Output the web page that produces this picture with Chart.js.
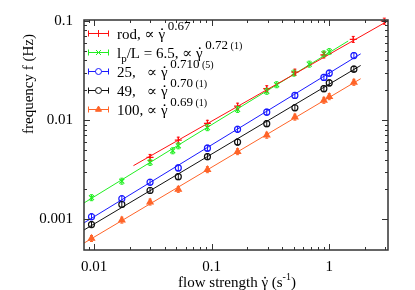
<!DOCTYPE html>
<html>
<head>
<meta charset="utf-8">
<script src="https://cdn.jsdelivr.net/npm/chart.js@4"></script>
<style>
html, body { margin: 0; padding: 0; background: #fff; }
#wrap { width: 415px; height: 290px; }
</style>
</head>
<body>
<div id="wrap"><canvas id="chart"></canvas></div>
<script>
// ===============================
// data
// ===============================
const xTicks = [0.01, 0.1, 1];
const xTickLabels = ["0.01", "0.1", "1"];
const yTicks = [0.001, 0.01, 0.1];
const yTickLabels = ["0.001", "0.01", "0.1"];

const rodX = [0.0299, 0.052, 0.092, 0.166, 0.294, 0.51, 0.90, 1.6, 2.94];
const rodY = [0.0042, 0.00627, 0.00927, 0.0138, 0.0207, 0.0304, 0.0454, 0.065, 0.0993];

const lp65X = [0.0095, 0.0172, 0.0299, 0.0466, 0.052, 0.092, 0.166, 0.294, 0.357, 0.5, 0.676, 0.90, 1.0];
const lp65Y = [0.00165, 0.00242, 0.00374, 0.0049, 0.0055, 0.00838, 0.0128, 0.0195, 0.0227, 0.0297, 0.0366, 0.0465, 0.049];

const flexX = [0.0095, 0.0172, 0.0299, 0.052, 0.092, 0.166, 0.294, 0.51, 0.90, 1.0, 1.62];
const lp25Y = [0.00106, 0.00161, 0.00236, 0.00329, 0.00521, 0.00807, 0.012, 0.0177, 0.0269, 0.0297, 0.0447];
const lp49Y = [0.000885, 0.00141, 0.00195, 0.00269, 0.00427, 0.006, 0.0092, 0.0133, 0.0207, 0.0237, 0.0326];
const lp100Y = [0.00064, 0.00098, 0.00149, 0.002, 0.00316, 0.0048, 0.00703, 0.0107, 0.0158, 0.0172, 0.024];

// power-law fit segments (end points)
const rodFitX = [0.0216, 3.16], rodFitY = [0.00347, 0.1];
const lp65FitX = [0.0082, 1.45], lp65FitY = [0.00146, 0.0627];
const lp25FitX = [0.0082, 1.85], lp25FitY = [0.00092, 0.0465];
const lp49FitX = [0.0082, 1.85], lp49FitY = [0.00078, 0.0355];
const lp100FitX = [0.0082, 1.85], lp100FitY = [0.000575, 0.0261];

// legend: label, exponent, uncertainty
const legendLabels = ["rod, \u221D ", "l|p|/L = 6.5, \u221D ", "25,   \u221D ", "49,   \u221D ", "100, \u221D "];
const legendExp = ["0.67", "0.72", "0.710", "0.70", "0.69"];
const legendErr = ["", "(1)", "(5)", "(1)", "(1)"];

// ===============================
// styles
// ===============================
const RED = "#ff1010", GREEN = "#22ee22", BLUE = "#1a1aff", BLACK = "#111", ORANGE = "#ff6428";
const SERIF = "'Liberation Serif', 'DejaVu Serif', serif";

const series = [
    { x: rodX, y: rodY, fx: rodFitX, fy: rodFitY, color: RED, style: "cross", r: 3.5, fill: false },
    { x: lp65X, y: lp65Y, fx: lp65FitX, fy: lp65FitY, color: GREEN, style: "crossRot", r: 3.5, fill: false },
    { x: flexX, y: lp25Y, fx: lp25FitX, fy: lp25FitY, color: BLUE, style: "circle", r: 3, fill: false },
    { x: flexX, y: lp49Y, fx: lp49FitX, fy: lp49FitY, color: BLACK, style: "circle", r: 3, fill: false },
    { x: flexX, y: lp100Y, fx: lp100FitX, fy: lp100FitY, color: ORANGE, style: "triangle", r: 3.5, fill: true }
];

const zip = (xs, ys) => xs.map((v, i) => ({ x: v, y: ys[i] }));

const datasets = [];
series.forEach(s => {
    datasets.push({
        data: zip(s.fx, s.fy), showLine: true, borderColor: s.color, borderWidth: 1,
        pointRadius: 0, fill: false
    });
});
series.forEach(s => {
    datasets.push({
        data: zip(s.x, s.y), showLine: false, pointStyle: s.style, pointRadius: s.r,
        borderColor: s.color, backgroundColor: s.fill ? s.color : "rgba(255,255,255,0)",
        pointBorderWidth: 1.2, errBar: true
    });
});

// ===============================
// text helpers
// ===============================
function font(sz) { return sz + "px " + SERIF; }

// segments: {t, sz, dy, gdot}
function richWidth(ctx, segs) {
    let w = 0;
    segs.forEach(s => { ctx.font = font(s.sz); w += ctx.measureText(s.t).width; });
    return w;
}
function drawRich(ctx, x, y, segs) {
    ctx.textAlign = "left";
    ctx.textBaseline = "alphabetic";
    segs.forEach(s => {
        ctx.font = font(s.sz);
        ctx.fillText(s.t, x, y + (s.dy || 0));
        const w = ctx.measureText(s.t).width;
        if (s.gdot) {
            ctx.beginPath();
            ctx.arc(x + w * 0.55, y - s.sz * 0.62, 0.9, 0, Math.PI * 2);
            ctx.fill();
        }
        x += w;
    });
}
function gammaExp(exp, err) {
    const segs = [{ t: "\u03B3", sz: 15, gdot: true }, { t: "\u2009" + exp, sz: 13, dy: -9 }];
    if (err) segs.push({ t: " " + err, sz: 10, dy: -9 });
    return segs;
}
function labelSegs(txt) {
    // "a|sub|b" -> subscript in the middle part
    const parts = txt.split("|");
    const out = [];
    parts.forEach((p, i) => {
        if (!p) return;
        out.push(i % 2 ? { t: p, sz: 11, dy: 4 } : { t: p, sz: 15 });
    });
    return out;
}

// ===============================
// frame, ticks, legend, titles
// ===============================
const decor = {
    id: "decor",
    afterDatasetsDraw(chart) {
        const ctx = chart.ctx;
        const a = chart.chartArea;
        const xs = chart.scales.x, ys = chart.scales.y;
        ctx.save();

        // small vertical error bars on data points
        chart.data.datasets.forEach((ds, di) => {
            if (!ds.errBar) return;
            const meta = chart.getDatasetMeta(di);
            ctx.strokeStyle = ds.borderColor;
            ctx.lineWidth = 1;
            meta.data.forEach(p => {
                ctx.beginPath();
                ctx.moveTo(p.x, p.y - 3); ctx.lineTo(p.x, p.y + 3);
                ctx.moveTo(p.x - 1.5, p.y - 3); ctx.lineTo(p.x + 1.5, p.y - 3);
                ctx.moveTo(p.x - 1.5, p.y + 3); ctx.lineTo(p.x + 1.5, p.y + 3);
                ctx.stroke();
            });
        });

        // frame
        ctx.strokeStyle = "#333";
        ctx.lineWidth = 1.5;
        ctx.strokeRect(a.left, a.top, a.right - a.left, a.bottom - a.top);

        // inward ticks (major + minor)
        ctx.lineWidth = 1;
        ctx.beginPath();
        for (let d = -3; d <= 1; d++) {
            for (let m = 1; m <= 9; m++) {
                const v = m * Math.pow(10, d);
                const len = m === 1 ? 6 : 3;
                if (v >= xs.min && v <= xs.max) {
                    const px = Math.round(xs.getPixelForValue(v)) + 0.5;
                    ctx.moveTo(px, a.bottom); ctx.lineTo(px, a.bottom - len);
                    ctx.moveTo(px, a.top); ctx.lineTo(px, a.top + len);
                }
                if (v >= ys.min && v <= ys.max) {
                    const py = Math.round(ys.getPixelForValue(v)) + 0.5;
                    ctx.moveTo(a.left, py); ctx.lineTo(a.left + len, py);
                    ctx.moveTo(a.right, py); ctx.lineTo(a.right - len, py);
                }
            }
        }
        ctx.stroke();

        // legend
        series.forEach((s, i) => {
            const ly = 33.5 + i * 19;
            ctx.strokeStyle = s.color;
            ctx.fillStyle = s.color;
            ctx.lineWidth = 1;
            ctx.beginPath();
            ctx.moveTo(88, ly); ctx.lineTo(109, ly);
            ctx.moveTo(88.5, ly - 3); ctx.lineTo(88.5, ly + 3);
            ctx.moveTo(108.5, ly - 3); ctx.lineTo(108.5, ly + 3);
            ctx.stroke();
            ctx.fillStyle = s.fill ? s.color : "#fff";
            Chart.helpers.drawPoint(ctx, { pointStyle: s.style, radius: s.r, rotation: 0, borderWidth: 1 }, 98.5, ly);
            ctx.fillStyle = "#000";
            const segs = labelSegs(legendLabels[i]).concat(gammaExp(legendExp[i], legendErr[i]));
            drawRich(ctx, 117, ly + 5, segs);
        });

        // axis titles
        ctx.fillStyle = "#000";
        const xt = [{ t: "flow strength ", sz: 15 }, { t: "\u03B3", sz: 15, gdot: true },
                    { t: " (s", sz: 15 }, { t: "-1", sz: 10, dy: -7 }, { t: ")", sz: 15 }];
        const w = richWidth(ctx, xt);
        drawRich(ctx, (a.left + a.right) / 2 + 1 - w / 2, 287, xt);

        ctx.translate(33, 84);
        ctx.rotate(-Math.PI / 2);
        ctx.font = font(15);
        ctx.textAlign = "center";
        ctx.textBaseline = "alphabetic";
        ctx.fillText("frequency f (Hz)", 0, 0);
        ctx.restore();
    }
};

// ===============================
// chart
// ===============================
new Chart(document.getElementById("chart"), {
    type: "scatter",
    data: { datasets: datasets },
    options: {
        responsive: true,
        maintainAspectRatio: false,
        animation: false,
        devicePixelRatio: 1,
        layout: { padding: { top: 18, right: 27, left: 0, bottom: 0 } },
        plugins: { legend: { display: false }, tooltip: { enabled: false } },
        scales: {
            x: {
                type: "logarithmic", min: 0.0082, max: 3.16,
                grid: { display: false, drawTicks: false }, border: { display: false },
                afterBuildTicks: sc => { sc.ticks = xTicks.map(v => ({ value: v })); },
                afterFit: sc => { sc.height = 40; },
                ticks: {
                    color: "#000", padding: 8, maxRotation: 0, autoSkip: false,
                    font: { family: SERIF, size: 15 },
                    callback: v => xTickLabels[xTicks.indexOf(v)]
                }
            },
            y: {
                type: "logarithmic", min: 0.00049, max: 0.102,
                grid: { display: false, drawTicks: false }, border: { display: false },
                afterBuildTicks: sc => { sc.ticks = yTicks.map(v => ({ value: v })); },
                afterFit: sc => { sc.width = 84; },
                ticks: {
                    color: "#000", padding: 11, autoSkip: false,
                    font: { family: SERIF, size: 15 },
                    callback: v => yTickLabels[yTicks.indexOf(v)]
                }
            }
        }
    },
    plugins: [decor]
});
</script>
</body>
</html>
